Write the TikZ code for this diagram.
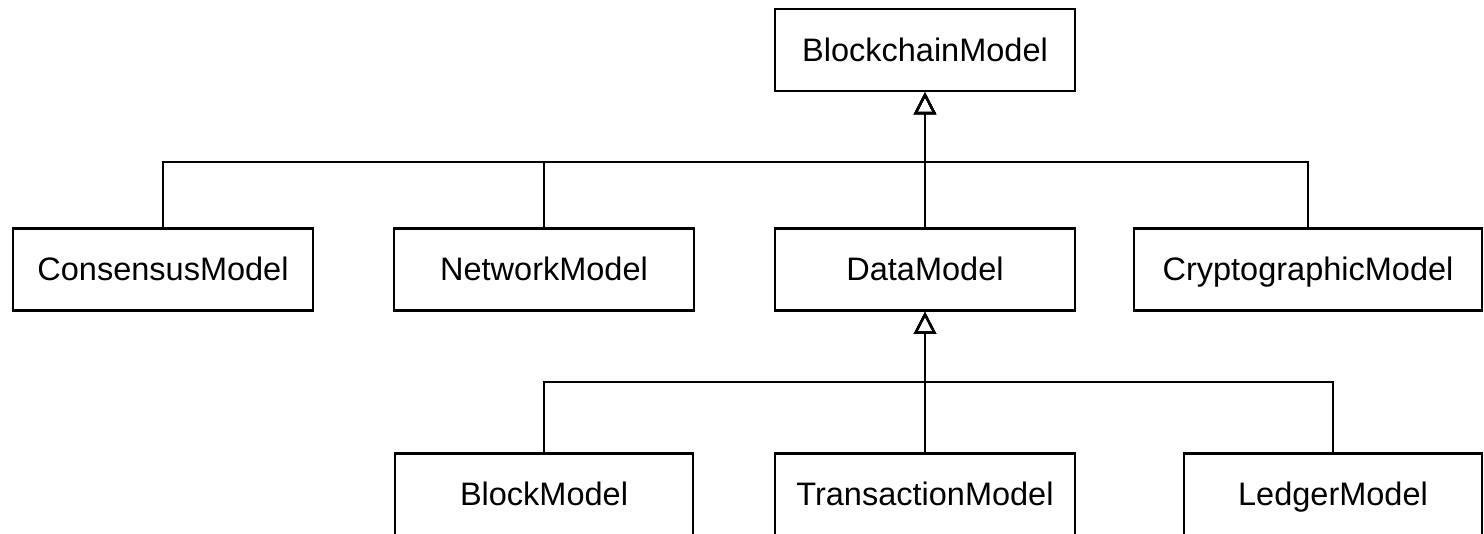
\documentclass[tikz,border=0pt]{standalone}
\usepackage{fontspec}
\setmainfont{Liberation Sans}
\usetikzlibrary{arrows.meta}
\begin{document}
\begin{tikzpicture}[x=1pt,y=-1pt,
  cls/.style={draw, line width=2.6pt, minimum height=82pt, inner sep=0pt,
    text height=23pt, text depth=0pt,
    font=\fontsize{32.5}{38}\selectfont, fill=white},
  inh/.style={line width=2.3pt, -{Triangle[open, length=22pt, width=22pt, line width=2.3pt]}}]
\useasboundingbox (0,0) rectangle (1484,534);
\clip (0,0) rectangle (1484,534);
\fill[white] (0,0) rectangle (1484,534);
% nodes
\node[cls, minimum width=300pt] (bc) at (925,50) {BlockchainModel};
\node[cls, minimum width=300pt] (cons) at (163,269.5) {ConsensusModel};
\node[cls, minimum width=300pt] (net) at (544,269.5) {NetworkModel};
\node[cls, minimum width=300pt] (data) at (925,269.5) {DataModel};
\node[cls, minimum width=348pt] (cry) at (1308,269.5) {CryptographicModel};
\node[cls, minimum width=298pt] (blk) at (544,494.5) {BlockModel};
\node[cls, minimum width=300pt] (tx) at (925,494.5) {TransactionModel};
\node[cls, minimum width=298pt] (led) at (1333,494.5) {LedgerModel};
% bus coordinates
\coordinate (bus1) at (925,162);
\coordinate (bus2) at (925,382);
% connectors
\draw[inh] (cons.north) |- (bus1) -- (bc.south);
\draw[inh] (net.north) |- (bus1) -- (bc.south);
\draw[inh] (data.north) -- (bc.south);
\draw[inh] (cry.north) |- (bus1) -- (bc.south);
\draw[inh] (blk.north) |- (bus2) -- (data.south);
\draw[inh] (tx.north) -- (data.south);
\draw[inh] (led.north) |- (bus2) -- (data.south);
\end{tikzpicture}
\end{document}
